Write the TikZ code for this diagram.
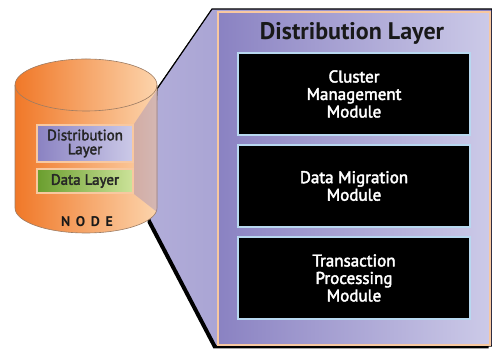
\documentclass[tikz,border=0pt]{standalone}
\usepackage{fontspec}
\setmainfont{PT Sans}
\newfontfamily\medfont[FakeBold=2.5]{PT Sans}
\usetikzlibrary{positioning}
\definecolor{purpD}{HTML}{8A82C2}
\definecolor{purpL}{HTML}{CCCAE8}
\definecolor{peach}{HTML}{F8C8A0}
\definecolor{orngD}{HTML}{F07828}
\definecolor{orngL}{HTML}{FCD4AC}
\definecolor{cylEdge}{HTML}{9C7C64}
\definecolor{iceblue}{HTML}{B8D8F0}
\definecolor{grnD}{HTML}{6A9E2E}
\definecolor{grnL}{HTML}{CCE39A}
\begin{document}
\begin{tikzpicture}[x=1pt,y=1pt,
  modbox/.style={draw=iceblue,line width=1.5pt,fill=black,text=white,minimum width=232pt,minimum height=82pt,align=center,font=\fontsize{17}{17.5}\medfont},
  layerbox/.style={draw=peach,line width=2pt,minimum width=96pt,inner sep=1pt,align=center,text=black!85,font=\fontsize{15}{14}\medfont}]
\useasboundingbox (0,0) rectangle (492,352);
% panel behind the node
\fill[black,xshift=-2.5pt,yshift=-2.5pt] (157,263) -- (212,342) -- (491,342) -- (491,6) -- (216,6) -- (150,132) -- cycle;
\shade[left color=purpL!60!purpD,right color=purpD,draw=black,line width=1.2pt] (157,263) -- (212,343) -- (492,343) -- (492,6) -- (216,6) -- (150,132) -- cycle;
\shade[left color=purpD,right color=purpL,draw=peach,line width=1.5pt] (218,340) rectangle (490,7);
\node[font=\fontsize{24}{26}\selectfont\bfseries,text=black!90] (title) at (352,319) {Distribution Layer};
\foreach \t [count=\n] in
        {{Cluster\\Management\\Module},{Data Migration\\Module},{Transaction\\Processing\\Module}}
  \node[modbox,yshift=-\n*92pt] (M\n) at (354,350) {\t};
% the node
\shade[left color=orngD,right color=orngL,draw=cylEdge,line width=0.6pt] (15,267) -- (15,144) arc[start angle=180,end angle=360,x radius=71,y radius=25] -- (157,267) arc[start angle=0,end angle=180,x radius=71,y radius=26] -- cycle;
\draw[cylEdge,line width=0.6pt] (15,267) arc[start angle=180,end angle=360,x radius=71,y radius=26];
\node[layerbox,left color=purpD,right color=purpL,minimum height=37pt] (dist) at (85,208.5) {Distribution\\Layer};
\node[layerbox,left color=grnD,right color=grnL,minimum height=24pt,below=5pt of dist] (data) {Data Layer};
\node[font=\fontsize{14}{15}\selectfont\bfseries\addfontfeature{LetterSpace=40},text=black!90] (nd) at (87,130) {NODE};
\fill[purpD,opacity=0.35] (dist.north east) -- (157,262) -- (157,140) -- (data.south east) -- cycle;
\end{tikzpicture}
\end{document}
